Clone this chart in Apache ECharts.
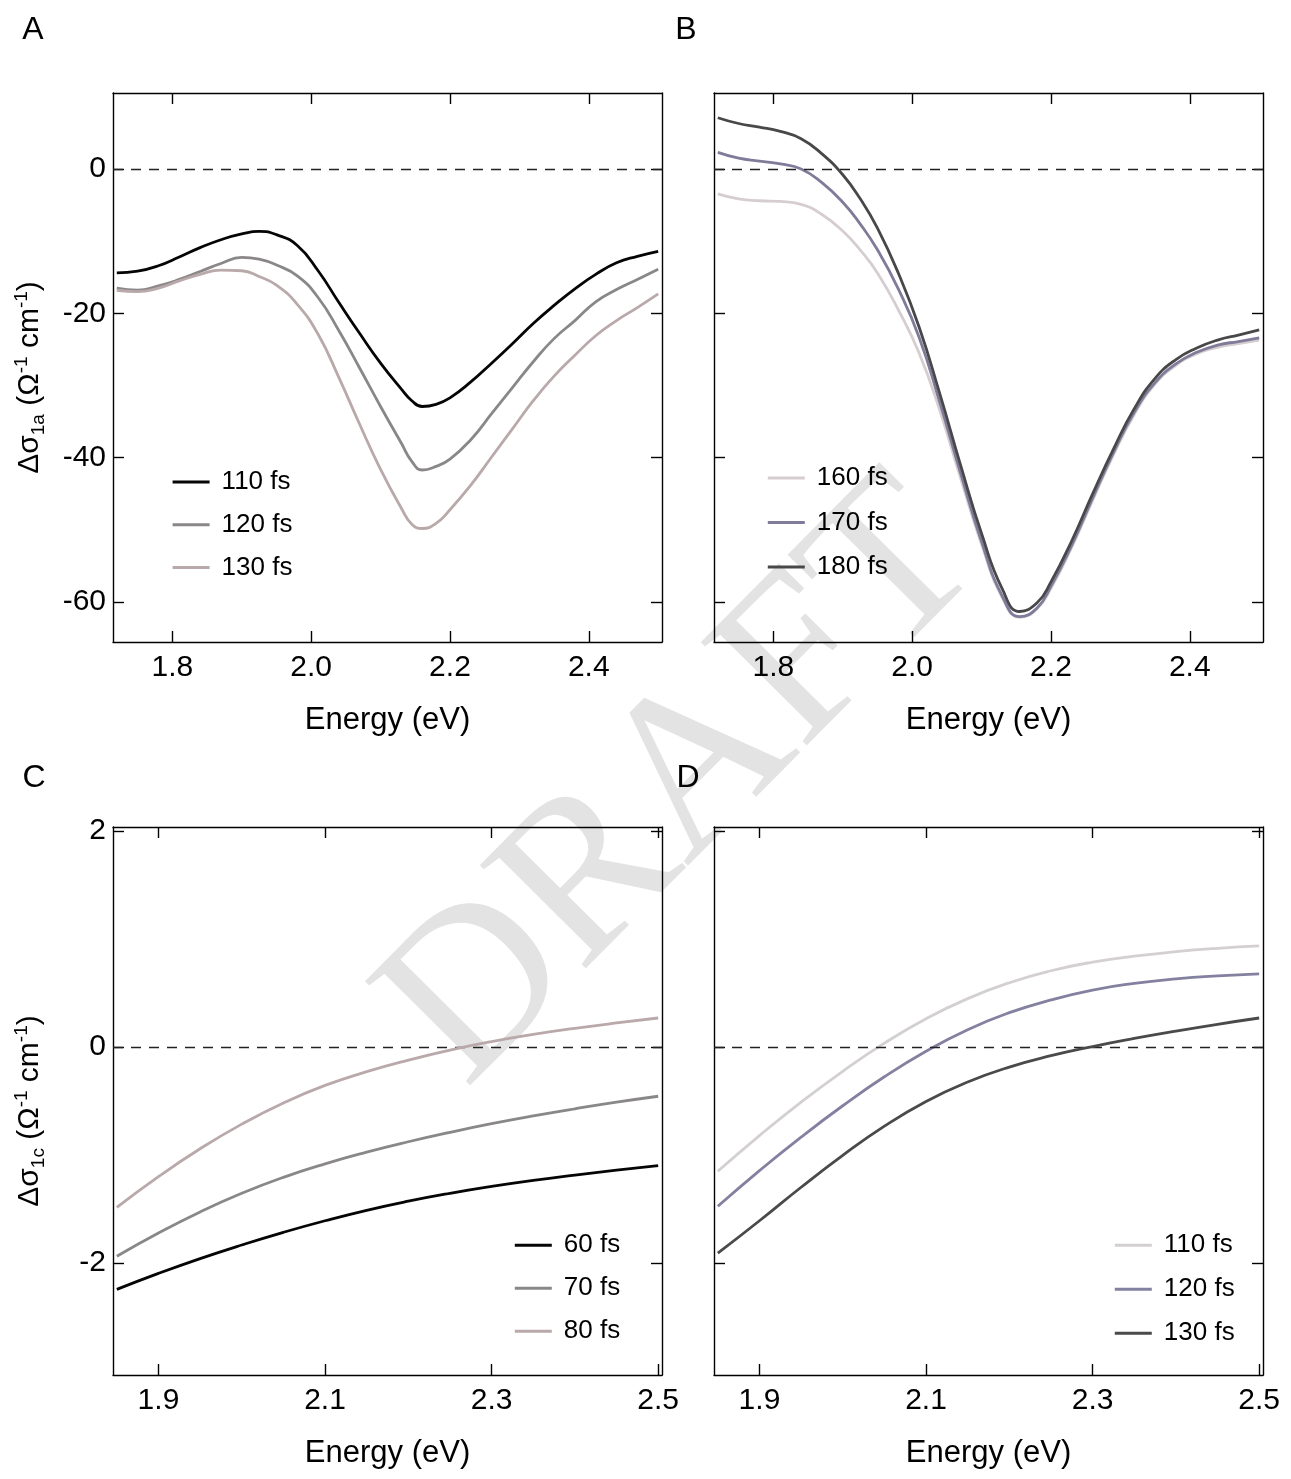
<!DOCTYPE html>
<html>
<head>
<meta charset="utf-8">
<script src="https://cdn.jsdelivr.net/npm/echarts@6/dist/echarts.min.js"></script>
<style>
  html, body { margin: 0; padding: 0; background: #fff; }
  #chart { width: 1291px; height: 1479px; }
</style>
</head>
<body>
<div id="chart"></div>
<script>
// ---- Panel A: Δσ1a spectra (energy grid in eV, denser around the dip) ----
const energyA = [1.72, 1.75, 1.78, 1.81, 1.84, 1.87, 1.90, 1.925, 1.95, 1.98, 2.01, 2.04, 2.07, 2.10, 2.13, 2.145, 2.16, 2.18, 2.20, 2.23, 2.26, 2.29, 2.32, 2.35, 2.38, 2.41, 2.44, 2.47, 2.50];

const sigmaA110 = [-14.4, -14.15, -13.4, -12.2, -10.9, -9.8, -9.0, -8.65, -9.1, -10.6, -14.1, -18.5, -22.8, -26.9, -30.5, -32.1, -32.9, -32.6, -31.7, -29.5, -26.9, -24.2, -21.4, -18.9, -16.6, -14.6, -13.0, -12.1, -11.4];
const sigmaA120 = [-16.5, -16.8, -16.2, -15.3, -14.2, -13.1, -12.25, -12.5, -13.3, -14.8, -17.8, -22.4, -27.6, -32.9, -38.0, -40.5, -41.7, -41.2, -40.2, -37.5, -33.9, -30.3, -26.7, -23.5, -21.0, -18.4, -16.7, -15.3, -13.9];
const sigmaA130 = [-16.8, -17.0, -16.5, -15.5, -14.6, -14.0, -14.1, -14.9, -16.1, -18.75, -22.9, -28.9, -35.4, -41.6, -47.0, -49.2, -49.8, -49.1, -47.2, -43.8, -39.9, -36.0, -32.1, -28.7, -25.8, -23.1, -21.0, -19.2, -17.3];

// ---- Panel B: Δσ1a spectra at later delays ----
const energyB = [1.72, 1.75, 1.78, 1.81, 1.84, 1.87, 1.90, 1.925, 1.95, 1.98, 2.01, 2.04, 2.07, 2.10, 2.13, 2.155, 2.18, 2.20, 2.23, 2.26, 2.29, 2.32, 2.35, 2.38, 2.41, 2.44, 2.47, 2.50];

const sigmaB160 = [-3.45, -4.15, -4.4, -4.5, -4.9, -6.3, -8.6, -11.2, -14.4, -19.5, -25.5, -33.5, -42.9, -52.0, -59.4, -62.1, -60.9, -58.1, -52.4, -45.9, -39.6, -34.0, -29.8, -27.2, -25.6, -24.7, -24.2, -23.7];
const sigmaB170 = [2.3, 1.5, 1.1, 0.7, 0.0, -1.9, -4.6, -7.6, -11.2, -16.6, -23.3, -32.4, -42.2, -51.6, -59.2, -62.0, -60.8, -57.8, -52.1, -45.6, -39.3, -33.7, -29.6, -27.0, -25.4, -24.4, -23.9, -23.4];
const sigmaB180 = [7.1, 6.3, 5.8, 5.2, 4.2, 2.1, -0.8, -4.1, -8.2, -14.4, -21.9, -31.2, -41.1, -50.5, -58.2, -61.3, -60.1, -57.2, -51.5, -45.0, -38.8, -33.2, -29.0, -26.4, -24.8, -23.7, -23.0, -22.3];

// ---- Panels C & D: Δσ1c spectra ----
const energyCD = [1.85, 1.90, 1.95, 2.00, 2.05, 2.10, 2.15, 2.20, 2.25, 2.30, 2.35, 2.40, 2.45, 2.50];

const sigmaC60 = [-2.243, -2.095, -1.958, -1.832, -1.715, -1.608, -1.511, -1.427, -1.354, -1.29, -1.234, -1.185, -1.14, -1.097];
const sigmaC70 = [-1.936, -1.721, -1.526, -1.354, -1.206, -1.081, -0.973, -0.877, -0.79, -0.71, -0.638, -0.572, -0.511, -0.456];
const sigmaC80 = [-1.485, -1.2, -0.942, -0.714, -0.518, -0.356, -0.229, -0.122, -0.029, 0.05, 0.116, 0.172, 0.222, 0.268];

const sigmaD110 = [-1.15, -0.82, -0.51, -0.225, 0.035, 0.261, 0.447, 0.594, 0.705, 0.785, 0.84, 0.882, 0.913, 0.935];
const sigmaD120 = [-1.474, -1.144, -0.834, -0.544, -0.276, -0.04, 0.16, 0.317, 0.435, 0.526, 0.588, 0.63, 0.658, 0.677];
const sigmaD130 = [-1.908, -1.608, -1.298, -1.003, -0.733, -0.504, -0.324, -0.186, -0.081, 0.004, 0.079, 0.147, 0.21, 0.268];

// ---- Tick values ----
const ticksX_AB = [1.8, 2.0, 2.2, 2.4];
const ticksY_AB = [-60, -40, -20, 0];
const ticksX_CD = [1.9, 2.1, 2.3, 2.5];
const ticksY_CD = [-2, 0, 2];

const FONT = '"Liberation Sans", Arial, Helvetica, sans-serif';

const panels = [
  { grid: { left: 113, top: 93, width: 549, height: 549 }, xr: [1.7145, 2.5055], yr: [-65.525, 10.525], tx: ticksX_AB, ty: ticksY_AB, yLabels: true,
    yName: '{n|Δσ}{sub|1a}{n| (Ω}{sup|-1}{n| cm}{sup|-1}{n|)}',
    lines: [['A:110 fs', energyA, sigmaA110, '#050505'], ['A:120 fs', energyA, sigmaA120, '#8a8789'], ['A:130 fs', energyA, sigmaA130, '#b9a9aa']],
    legend: { left: 172.6, top: 469, gap: 16.7 } },
  { grid: { left: 714, top: 93, width: 549, height: 549 }, xr: [1.7145, 2.5055], yr: [-65.525, 10.525], tx: ticksX_AB, ty: ticksY_AB, yLabels: false,
    lines: [['B:160 fs', energyB, sigmaB160, '#d6cdd0'], ['B:170 fs', energyB, sigmaB170, '#7f7b99'], ['B:180 fs', energyB, sigmaB180, '#48484a']],
    legend: { left: 767.8, top: 465, gap: 18.5 } },
  { grid: { left: 113, top: 827, width: 549, height: 548 }, xr: [1.8454, 2.5046], yr: [-3.035, 2.035], tx: ticksX_CD, ty: ticksY_CD, yLabels: true,
    yName: '{n|Δσ}{sub|1c}{n| (Ω}{sup|-1}{n| cm}{sup|-1}{n|)}',
    lines: [['C:60 fs', energyCD, sigmaC60, '#050505'], ['C:70 fs', energyCD, sigmaC70, '#8a8789'], ['C:80 fs', energyCD, sigmaC80, '#b9a9aa']],
    legend: { left: 514.8, top: 1232.3, gap: 17 } },
  { grid: { left: 714, top: 827, width: 549, height: 548 }, xr: [1.8454, 2.5046], yr: [-3.035, 2.035], tx: ticksX_CD, ty: ticksY_CD, yLabels: false,
    lines: [['D:110 fs', energyCD, sigmaD110, '#d4d0d1'], ['D:120 fs', energyCD, sigmaD120, '#8380a0'], ['D:130 fs', energyCD, sigmaD130, '#4a4a4a']],
    legend: { left: 1114.8, top: 1232.3, gap: 18 } }
];

const axisLineStyle = { color: '#000', width: 1.4 };
const richName = {
  n: { fontSize: 30, fontFamily: FONT, color: '#000', lineHeight: 36 },
  sub: { fontSize: 19, fontFamily: FONT, color: '#000', verticalAlign: 'bottom', lineHeight: 19 },
  sup: { fontSize: 19, fontFamily: FONT, color: '#000', verticalAlign: 'top', lineHeight: 19 }
};

const grid = [], xAxis = [], yAxis = [], series = [], legend = [];

panels.forEach((p, i) => {
  grid.push(Object.assign({ containLabel: false }, p.grid));
  const xBase = {
    type: 'value', gridIndex: i, min: p.xr[0], max: p.xr[1],
    axisLine: { show: true, onZero: false, lineStyle: axisLineStyle },
    axisTick: { show: true, inside: true, length: 11, lineStyle: axisLineStyle, customValues: p.tx },
    splitLine: { show: false }
  };
  xAxis.push(Object.assign({}, xBase, {
    position: 'bottom',
    axisLabel: { show: true, customValues: p.tx, formatter: v => v.toFixed(1), fontSize: 30, fontFamily: FONT, color: '#000', margin: 11 },
    name: 'Energy (eV)', nameLocation: 'middle', nameGap: 63,
    nameTextStyle: { fontSize: 31, fontFamily: FONT, color: '#000' }
  }));
  xAxis.push(Object.assign({}, xBase, { position: 'top', axisLabel: { show: false } }));

  const yBase = {
    type: 'value', gridIndex: i, min: p.yr[0], max: p.yr[1],
    axisLine: { show: true, onZero: false, lineStyle: axisLineStyle },
    axisTick: { show: true, inside: true, length: 11, lineStyle: axisLineStyle, customValues: p.ty },
    splitLine: { show: false }
  };
  const yLeft = Object.assign({}, yBase, {
    position: 'left',
    axisLabel: { show: p.yLabels, customValues: p.ty, formatter: v => String(v), fontSize: 30, fontFamily: FONT, color: '#000', margin: 7 }
  });
  if (p.yName) {
    Object.assign(yLeft, {
      name: p.yName, nameLocation: 'middle', nameRotate: 90, nameGap: 65,
      nameTextStyle: { rich: richName, padding: [0, 20, 0, 0] }
    });
  }
  yAxis.push(yLeft);
  yAxis.push(Object.assign({}, yBase, { position: 'right', axisLabel: { show: false } }));

  p.lines.forEach((ln, k) => {
    const s = {
      type: 'line', name: ln[0], xAxisIndex: 2 * i, yAxisIndex: 2 * i,
      data: ln[1].map((e, j) => [e, ln[2][j]]),
      smooth: 0.5, showSymbol: false, symbol: 'none',
      lineStyle: { color: ln[3], width: 2.8 }, itemStyle: { color: ln[3] },
      z: 3 + k
    };
    if (k === 0) {
      s.markLine = {
        silent: true, symbol: 'none', label: { show: false },
        lineStyle: { type: [10, 8], color: '#222', width: 1.3 },
        data: [{ yAxis: 0 }]
      };
    }
    series.push(s);
  });

  legend.push({
    orient: 'vertical', left: p.legend.left, top: p.legend.top, padding: 0,
    itemGap: p.legend.gap, itemWidth: 37, itemHeight: 3, icon: 'rect',
    selectedMode: false,
    data: p.lines.map(l => l[0]),
    formatter: name => name.split(':')[1],
    textStyle: { fontSize: 26, fontFamily: FONT, color: '#000', lineHeight: 25, padding: [0, 0, 0, 7] }
  });
});

const letter = (t, x, y) => ({
  type: 'text', x: x, y: y, z: 10,
  style: { text: t, fontSize: 32, fontFamily: FONT, fill: '#000', align: 'center', verticalAlign: 'middle' }
});

const option = {
  animation: false,
  backgroundColor: '#fff',
  grid, xAxis, yAxis, series, legend,
  graphic: {
    elements: [
      {
        type: 'text', x: 684, y: 785, rotation: 0.79, z: -1,
        style: { text: 'DRAFT', fontSize: 226, fontFamily: '"Liberation Serif", "DejaVu Serif", serif', fill: '#e3e3e3', align: 'center', verticalAlign: 'middle' }
      },
      letter('A', 33, 30), letter('B', 686, 30), letter('C', 34, 778), letter('D', 688, 778)
    ]
  }
};

const chart = echarts.init(document.getElementById('chart'), null, { renderer: 'canvas' });
chart.setOption(option);
</script>
</body>
</html>
